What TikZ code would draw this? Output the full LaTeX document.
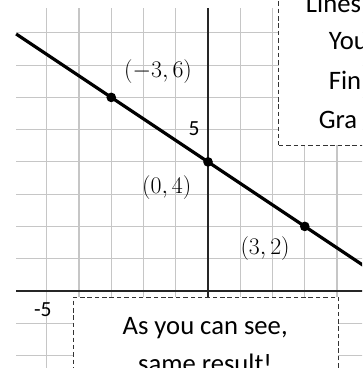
\RequirePackage{fix-cm}
\documentclass[tikz,border=0pt]{standalone}
\usepackage{fontspec}
\setmainfont{Carlito}
\usetikzlibrary{positioning}

\tikzset{
  gridline/.style={gray!45, line width=1pt},
  axisline/.style={black!85, line width=1.7pt},
  graphline/.style={black, line width=2.8pt},
  dotpt/.style={circle, fill=black, inner sep=0pt, minimum size=0.3cm},
  coordlabel/.style={font=\fontsize{21}{25}\selectfont, inner sep=0pt},
  ticklabel/.style={font=\fontsize{19}{22}\selectfont, inner sep=0pt},
  notebox/.style={draw=black!80, fill=white, line width=0.8pt, dash pattern=on 4pt off 2.5pt},
  notetext/.style={font=\fontsize{23.5}{28}\selectfont, inner sep=0pt},
}

\begin{document}
\begin{tikzpicture}
  \useasboundingbox (-6.45,-2.39) rectangle (4.775,9.02);
  \clip (-6.45,-2.39) rectangle (4.775,9.02);

  % grid
  \foreach \y in {-2,...,8}
    \draw[gridline] (-5.95,\y) -- (5,\y);
  \foreach \x in {-5,...,4}
    \draw[gridline] (\x,-3) -- (\x,8.78);

  % axes
  \draw[axisline] (-5.95,0) -- (5,0);
  \draw[axisline] (0,-3) -- (0,8.78);
  \node[ticklabel] (ytick) at (-0.43,5.04) {5};
  \node[ticklabel] (xtick) at (-5.12,-0.59) {-5};

  % the line y = -2/3 x + 4
  \coordinate (lstart) at (-5.95,7.967);
  \coordinate (lend) at (5.5,0.333);
  \draw[graphline] (lstart) -- (lend);

  \node[dotpt] (pa) at (-3,6) {};
  \node[dotpt] (pb) at (0,4) {};
  \node[dotpt] (pc) at (3,2) {};

  \node[coordlabel] (la) at (-1.55,6.8) {$(-3,6)$};
  \node[coordlabel] (lb) at (-1.28,3.2) {$(0,4)$};
  \node[coordlabel] (lc) at (1.77,1.32) {$(3,2)$};

  % notes
  \node[notebox, anchor=south west, minimum width=4cm, minimum height=6cm] (topnote) at (2.18,4.5) {};
  \node[notetext, anchor=base west] (t1) at (3.03,8.64) {Lines};
  \node[notetext, anchor=base west] (t2) at (3.74,7.47) {You};
  \node[notetext, anchor=base west] (t3) at (3.74,6.23) {Fin};
  \node[notetext, anchor=base west] (t4) at (3.43,5.05) {Gra};

  \node[notebox, anchor=north west, minimum width=8.23cm, minimum height=4cm] (botnote) at (-4.2,-0.19) {};
  \node[notetext, anchor=base] (b1) at (-0.09,-1.36) {As you can see,};
  \node[notetext, anchor=base] (b2) at (-0.09,-2.54) {same result!};
\end{tikzpicture}
\end{document}
